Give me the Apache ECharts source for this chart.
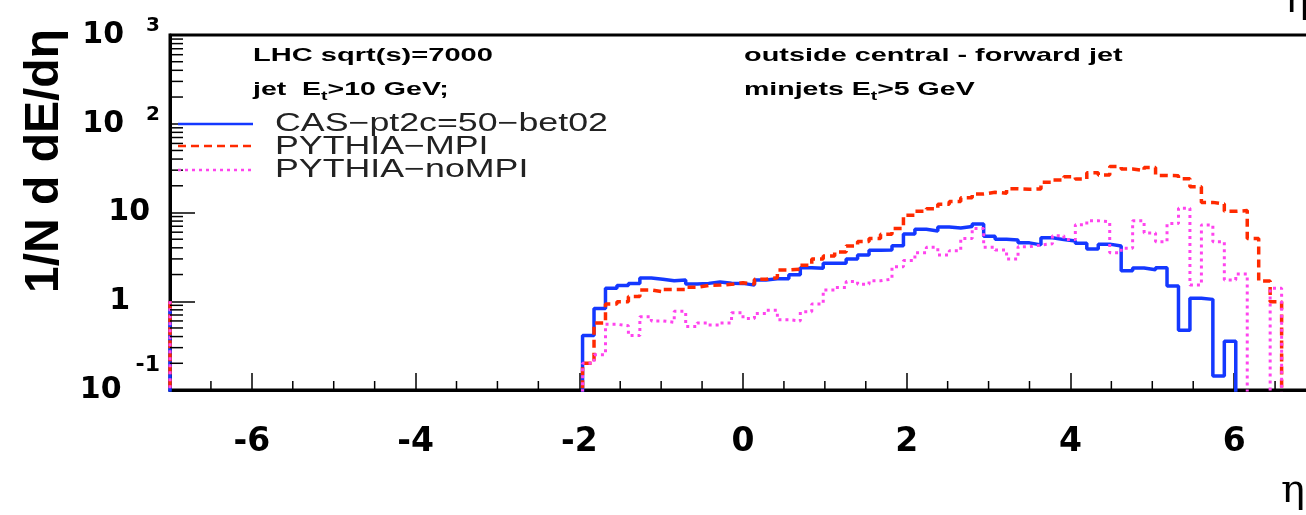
<!DOCTYPE html>
<html>
<head>
<meta charset="utf-8">
<script src="https://cdn.jsdelivr.net/npm/echarts@6/dist/echarts.min.js"></script>
<style>
html,body{margin:0;padding:0;background:#fff;}
#chart{width:1306px;height:515px;}
</style>
</head>
<body>
<div id="chart"></div>
<script>
// ---- axis / binning ----
const xMin = -7, xMax = 7, nBins = 100, binWidth = 0.14;
const firstBin = 36; // first listed bin (low edge -1.96)
const xTickLabels = [-6, -4, -2, 0, 2, 4, 6];
const xMinorTicks = [-6.5, -5.5, -5, -4.5, -3.5, -3, -2.5, -1.5, -1, -0.5, 0.5, 1, 1.5, 2.5, 3, 3.5, 4.5, 5, 5.5, 6.5];
const yDecades = [0.1, 1, 10, 100];
const yMinorMult = [2, 3, 4, 5, 6, 7, 8, 9];

// ---- series values, bins 36..96 (0 = empty bin) ----
const casValues = [0.41, 0.83, 1.40, 1.50, 1.59, 1.83, 1.77, 1.70, 1.74, 1.56,
  1.59, 1.65, 1.60, 1.59, 1.52, 1.74, 1.79, 1.79, 1.99, 2.38,
  2.35, 2.68, 2.68, 2.99, 3.31, 3.75, 3.78, 4.22, 5.72, 6.46,
  6.20, 6.85, 6.70, 6.95, 7.40, 5.40, 4.99, 4.90, 4.55, 4.32,
  5.20, 4.95, 4.77, 4.50, 3.87, 4.40, 4.19, 2.21, 2.37, 2.26,
  2.39, 1.49, 0.47, 1.08, 1.05, 0.144, 0.354, 0, 0, 0, 0];
const mpiValues = [0.20, 0.57, 0.93, 0.99, 1.13, 1.34, 1.28, 1.36, 1.36, 1.44,
  1.51, 1.52, 1.55, 1.62, 1.56, 1.77, 1.84, 2.25, 2.29, 2.54,
  3.0, 3.24, 3.6, 4.2, 4.7, 5.1, 5.7, 6.6, 9.3, 10.3,
  11.0, 12.4, 13.3, 14.7, 16.2, 16.9, 16.5, 18.5, 18.3, 18.4,
  21.9, 23.2, 25.3, 23.8, 28.1, 26.4, 32.9, 30.9, 29.6, 32.2,
  26.2, 26.0, 24.0, 19.5, 13.0, 12.5, 10.3, 10.5, 5.1, 1.69, 0.99];
const noMpiValues = [0.20, 0.25, 0.55, 0.53, 0.41, 0.67, 0.60, 0.58, 0.77, 0.52,
  0.57, 0.54, 0.57, 0.74, 0.64, 0.73, 0.79, 0.62, 0.60, 0.76,
  0.93, 1.34, 1.43, 1.67, 1.55, 1.70, 1.78, 2.45, 2.88, 3.52,
  4.05, 3.32, 3.70, 5.11, 6.6, 4.05, 3.78, 3.0, 4.12, 4.3,
  4.45, 5.47, 4.95, 7.3, 8.08, 7.87, 3.53, 3.95, 8.05, 5.88,
  4.69, 7.5, 11.2, 1.52, 7.25, 4.69, 1.74, 2.03, 0, 0, 1.40];
const edgeSpike = 1; // vertical stub drawn at the left edge

const seriesNames = ['CAS\u2212pt2c=50\u2212bet02', 'PYTHIA\u2212MPI', 'PYTHIA\u2212noMPI'];
const seriesColors = ['#1438ff', '#ff2a00', '#ff44ee'];

function histPoints(vals) {
  const floor = 1e-3;
  const pts = [[xMin, edgeSpike], [xMin, floor]];
  for (let k = 0; k < nBins; k++) {
    const i = k - firstBin;
    const v = (i >= 0 && i < vals.length && vals[i] > 0) ? vals[i] : floor;
    pts.push([Number((xMin + k * binWidth).toFixed(2)), v]);
  }
  pts.push([xMax, floor]);
  return pts;
}

const yMinorData = [];
yDecades.forEach(d => yMinorMult.forEach(m => yMinorData.push([xMin, Number((d * m).toPrecision(3))])));
const xMinorData = xMinorTicks.map(x => [x, 0.1]);

const chart = echarts.init(document.getElementById('chart'), null, {renderer: 'canvas'});

const boldFont = 'DejaVu Sans';
const textOpts = (extra) => Object.assign({verticalAlign: 'middle', textVerticalAlign: 'middle', fill: '#000'}, extra);
const option = {
  animation: false,
  backgroundColor: '#fff',
  grid: {left: 170, top: 35, width: 1146, height: 355, outerBoundsMode: 'none', containLabel: false,
         show: true, borderColor: '#000', borderWidth: 3, backgroundColor: 'transparent'},
  xAxis: {
    type: 'value', min: xMin, max: xMax, splitNumber: 7,
    axisLine: {onZero: false, lineStyle: {color: '#000', width: 3}},
    axisTick: {inside: true, length: 17, lineStyle: {color: '#000', width: 1.5}},
    splitLine: {show: false},
    axisLabel: {
      formatter: v => xTickLabels.indexOf(v) >= 0 ? String(v) : '',
      fontFamily: boldFont, fontWeight: 'bold', fontSize: 33, color: '#000', margin: 36
    }
  },
  yAxis: {
    type: 'log', logBase: 10, min: 0.1, max: 1000,
    axisLine: {onZero: false, lineStyle: {color: '#000', width: 3}},
    axisTick: {inside: true, length: 25, lineStyle: {color: '#000', width: 1.5}},
    splitLine: {show: false},
    axisLabel: {
      margin: 10, align: 'right',
      formatter: v => {
        const e = Math.round(Math.log10(v));
        if (e === 1) return '{b|10}{g10| }';
        if (e === 0) return '{b|1}{g1| }';
        if (e < 0) return '{bl|10}{g2| }{s2|' + e + '}';
        return '{b|10}{g| }{s|' + e + '}';
      },
      rich: {
        b: {fontFamily: boldFont, fontWeight: 'bold', fontSize: 30, color: '#000', lineHeight: 38, verticalAlign: 'middle'},
        bl: {fontFamily: boldFont, fontWeight: 'bold', fontSize: 30, color: '#000', lineHeight: 72, verticalAlign: 'middle'},
        s: {fontFamily: boldFont, fontWeight: 'bold', fontSize: 20, color: '#000', lineHeight: 12, verticalAlign: 'top'},
        s2: {fontFamily: boldFont, fontWeight: 'bold', fontSize: 22, color: '#000', lineHeight: 14, verticalAlign: 'top'},
        g: {width: 22, lineHeight: 12},
        g2: {width: 14, lineHeight: 12},
        g10: {width: 10, lineHeight: 12},
        g1: {width: 30, lineHeight: 12}
      }
    }
  },
  series: [
    {name: seriesNames[0], type: 'line', step: 'end', showSymbol: false, clip: true, data: histPoints(casValues),
     lineStyle: {color: seriesColors[0], width: 3.5}, z: 3},
    {name: seriesNames[1], type: 'line', step: 'end', showSymbol: false, clip: true, data: histPoints(mpiValues),
     lineStyle: {color: seriesColors[1], width: 3.5, type: [8, 5]}, z: 4},
    {name: seriesNames[2], type: 'line', step: 'end', showSymbol: false, clip: true, data: histPoints(noMpiValues),
     lineStyle: {color: seriesColors[2], width: 3, type: [3, 4]}, z: 5},
    {type: 'custom', data: yMinorData, clip: false, silent: true, z: 6,
     renderItem: (params, api) => {
       const p = api.coord([api.value(0), api.value(1)]);
       return {type: 'line', shape: {x1: p[0], y1: p[1], x2: p[0] + 13, y2: p[1]}, style: {stroke: '#000', lineWidth: 1.5}};
     }},
    {type: 'custom', data: xMinorData, clip: false, silent: true, z: 6,
     renderItem: (params, api) => {
       const p = api.coord([api.value(0), api.value(1)]);
       return {type: 'line', shape: {x1: p[0], y1: p[1], x2: p[0], y2: p[1] - 9}, style: {stroke: '#000', lineWidth: 1.5}};
     }}
  ],
  graphic: [
    {type: 'text', x: 45, y: 161, rotation: Math.PI / 2, z: 10,
     style: textOpts({text: '1/N d dE/d\u03b7', font: 'bold 48px "Liberation Sans"', align: 'center', textAlign: 'center'})},
    {type: 'text', x: 1293, y: 492, z: 10,
     style: textOpts({text: '\u03b7', font: '40px "DejaVu Serif"', align: 'center', textAlign: 'center'})},
    {type: 'text', x: 1297, y: 2, z: 10,
     style: textOpts({text: '\u03b7', font: '40px "DejaVu Serif"', align: 'center', textAlign: 'center'})},
    {type: 'text', x: 253, y: 56, scaleX: 1.53, z: 10,
     style: textOpts({text: 'LHC sqrt(s)=7000', font: 'bold 19px "Liberation Sans"'})},
    {type: 'text', x: 744, y: 56, scaleX: 1.52, z: 10,
     style: textOpts({text: 'outside central - forward jet', font: 'bold 19px "Liberation Sans"'})},
    {type: 'text', x: 253, y: 90, scaleX: 1.5, z: 10,
     style: textOpts({text: '{m|jet  E}{u|t}{m|>10 GeV;}',
       rich: {m: {fontFamily: 'Liberation Sans', fontWeight: 'bold', fontSize: 19, fill: '#000', lineHeight: 26, verticalAlign: 'middle'},
              u: {fontFamily: 'Liberation Sans', fontWeight: 'bold', fontSize: 13, fill: '#000', lineHeight: 12, verticalAlign: 'bottom'}}})},
    {type: 'text', x: 744, y: 90, scaleX: 1.5, z: 10,
     style: textOpts({text: '{m|minjets E}{u|t}{m|>5 GeV}',
       rich: {m: {fontFamily: 'Liberation Sans', fontWeight: 'bold', fontSize: 19, fill: '#000', lineHeight: 26, verticalAlign: 'middle'},
              u: {fontFamily: 'Liberation Sans', fontWeight: 'bold', fontSize: 13, fill: '#000', lineHeight: 12, verticalAlign: 'bottom'}}})},
    {type: 'line', z: 10, shape: {x1: 178, y1: 124, x2: 253, y2: 124}, style: {stroke: seriesColors[0], lineWidth: 2.5}},
    {type: 'line', z: 10, shape: {x1: 178, y1: 146, x2: 253, y2: 146}, style: {stroke: seriesColors[1], lineWidth: 2.5, lineDash: [8, 5]}},
    {type: 'line', z: 10, shape: {x1: 178, y1: 170, x2: 253, y2: 170}, style: {stroke: seriesColors[2], lineWidth: 2.5, lineDash: [3, 4]}},
    {type: 'text', x: 275, y: 124, scaleX: 1.43, z: 10,
     style: textOpts({text: seriesNames[0], font: '25px "Liberation Sans"', fill: '#222'})},
    {type: 'text', x: 275, y: 147, scaleX: 1.43, z: 10,
     style: textOpts({text: seriesNames[1], font: '25px "Liberation Sans"', fill: '#222'})},
    {type: 'text', x: 275, y: 170, scaleX: 1.43, z: 10,
     style: textOpts({text: seriesNames[2], font: '25px "Liberation Sans"', fill: '#222'})}
  ]
};
chart.setOption(option);
</script>
</body>
</html>
